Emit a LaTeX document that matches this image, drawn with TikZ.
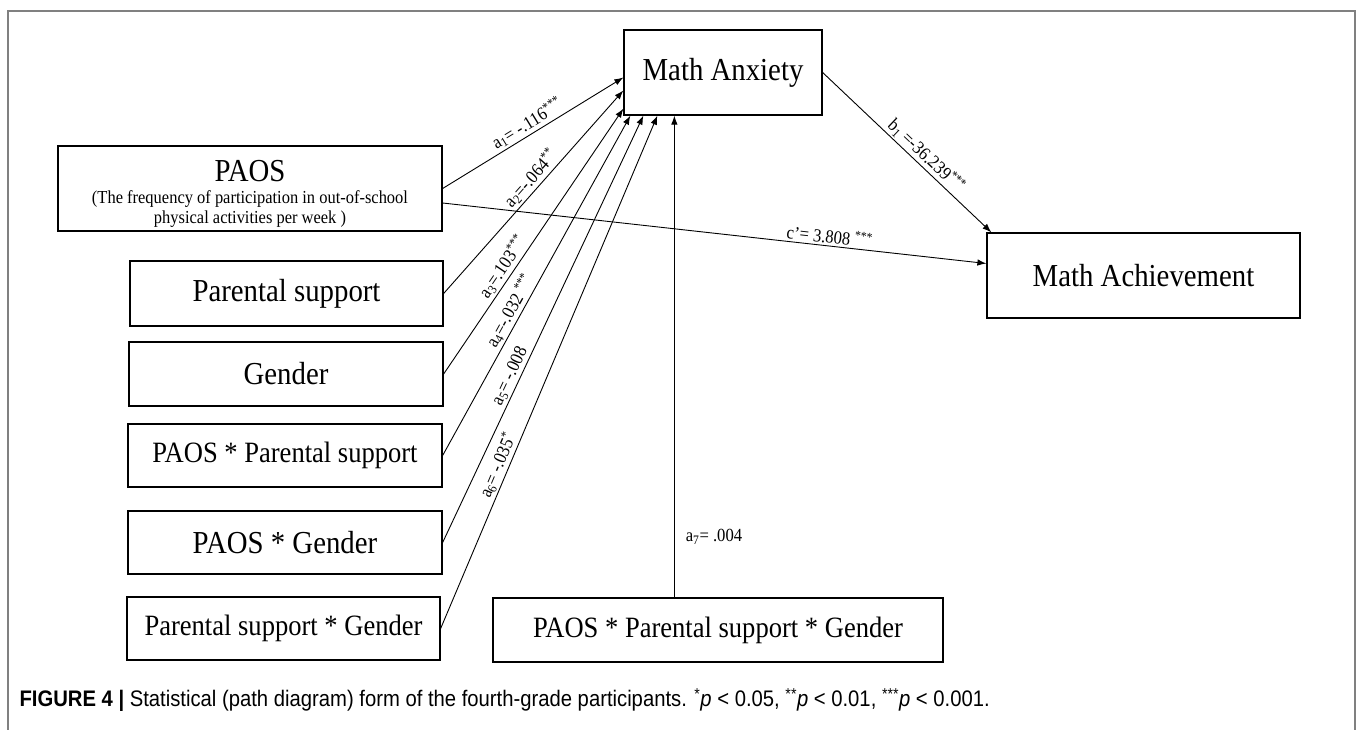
\documentclass[tikz,border=0pt]{standalone}
\usepackage{fontspec}
\setmainfont[FakeStretch=0.9]{Liberation Serif}
\newfontfamily\capfont[FakeStretch=0.9]{Liberation Sans}
\usetikzlibrary{arrows.meta,calc}
\begin{document}
\begin{tikzpicture}[x=1pt, y=-1pt,
    varbox/.style={draw, line width=1.3pt, inner sep=0pt, align=center,
        font=\fontsize{32}{36}\selectfont},
    path/.style={line width=0.9pt, -{Latex[length=9pt,width=6.5pt]}},
    lab/.style={font=\fontsize{18.5}{20}\selectfont, inner sep=2pt}]
    \useasboundingbox (0,0) rectangle (1360,730);
    % outer frame
    \draw[black!50, line width=2pt] (8,740) -- (8,11) -- (1355,11) -- (1355,740);
    % mediator and outcome
    \node[varbox, minimum width=198pt, minimum height=85pt] (anx) at (723,72.5) {Math Anxiety};
    \node[varbox, minimum width=313pt, minimum height=85pt] (ach) at (1143.5,275.5) {Math Achievement};
    % predictors
    \node[varbox, minimum width=384pt, minimum height=85pt] (paos) at (250,188.5) {};
    \node[font=\fontsize{32}{36}\selectfont] (paostitle) at (250,171.5) {PAOS};
    \node[font=\fontsize{18.3}{20}\selectfont, align=center] (paosnote) at (250,209)
        {(The frequency of participation in out-of-school\\physical activities per week )};
    \node[varbox, minimum width=313pt, minimum height=65pt] (ps) at (286.5,293.5) {Parental support};
    \node[varbox, minimum width=314pt, minimum height=64pt] (gen) at (286,374) {Gender};
    \node[varbox, minimum width=314pt, minimum height=63pt, font=\fontsize{29.5}{34}\selectfont] (paosps) at (285,455.5) {PAOS * Parental support};
    \node[varbox, minimum width=314pt, minimum height=63pt] (paosgen) at (285,542.5) {PAOS * Gender};
    \node[varbox, minimum width=313pt, minimum height=63pt, font=\fontsize{29.5}{34}\selectfont] (psgen) at (283.5,628.5) {Parental support * Gender};
    \node[varbox, minimum width=450pt, minimum height=64pt, font=\fontsize{29.5}{34}\selectfont] (three) at (718,630) {PAOS * Parental support * Gender};
    % arrow tips on Math Anxiety
    \coordinate (a1tip) at ($(anx.west)+(0,5)$);
    \coordinate (a2tip) at ($(anx.west)+(0,18)$);
    \coordinate (a3tip) at ($(anx.south west)+(0,-7)$);
    \coordinate (a4tip) at ($(anx.south west)+(7,0)$);
    \coordinate (a5tip) at ($(anx.south west)+(20,0)$);
    \coordinate (a6tip) at ($(anx.south west)+(34,0)$);
    \coordinate (a7tip) at ($(anx.south west)+(51,0)$);
    % a paths
    \draw[path] (paos.east) -- node[lab, sloped, above, pos=0.5] {a\textsubscript{1}= -.116\textsuperscript{***}} (a1tip);
    \draw[path] (ps.east) -- node[lab, sloped, above, pos=0.53] {a\textsubscript{2}=-.064\textsuperscript{**}} (a2tip);
    \draw[path] (gen.east) -- node[lab, sloped, above, pos=0.38] {a\textsubscript{3}=.103\textsuperscript{***}} (a3tip);
    \draw[path] (paosps.east) -- node[lab, sloped, above, pos=0.41] {a\textsubscript{4}=-.032 \textsuperscript{***}} (a4tip);
    \draw[path] (paosgen.east) -- node[lab, sloped, above, pos=0.38] {a\textsubscript{5}= -.008} (a5tip);
    \draw[path] (psgen.east) -- node[lab, sloped, above, pos=0.31] {a\textsubscript{6}= -.035\textsuperscript{*}} (a6tip);
    \draw[path] (three.north -| a7tip) -- node[lab, right=9pt, pos=0.126] {a\textsubscript{7}= .004} (a7tip);
    % b and c' paths
    \draw[path] (anx.east) -- node[lab, sloped, above, pos=0.57] {b\textsubscript{1} =-36.239\textsuperscript{***}} ($(ach.north west)+(5,0)$);
    \draw[path] ($(paos.east)+(0,14.5)$) -- node[lab, sloped, above, pos=0.71] {c’= 3.808 \textsuperscript{***}} ($(ach.west)+(0,-12)$);
    % caption
    \node[anchor=west, font=\capfont\fontsize{22.5}{24}\selectfont] (caption) at (16,700)
        {\textbf{FIGURE 4 |} Statistical (path diagram) form of the fourth-grade participants. \textsuperscript{*}\textit{p} < 0.05, \textsuperscript{**}\textit{p} < 0.01, \textsuperscript{***}\textit{p} < 0.001.};
\end{tikzpicture}
\end{document}
